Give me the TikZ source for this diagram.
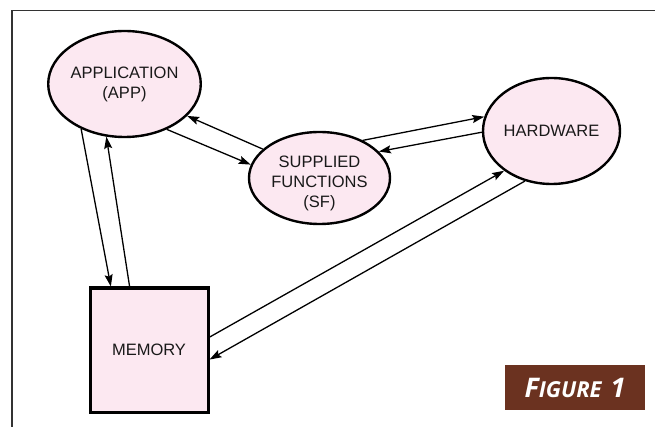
\documentclass[tikz,border=0pt]{standalone}
\usepackage{fontspec}
\setmainfont{Liberation Sans}
\newfontfamily\figfont{Open Sans}
\usetikzlibrary{shapes.geometric,arrows.meta}
\definecolor{pinkfill}{RGB}{252,232,241}
\definecolor{figbrown}{RGB}{107,50,32}
\begin{document}
\begin{tikzpicture}[x=1pt,y=-1pt,
  lbl/.style={font=\fontsize{16.5}{20}\selectfont, align=center, text=black!90},
  bubble/.style={ellipse, draw=black, line width=2.4pt, fill=pinkfill, inner sep=0pt, lbl},
  membox/.style={rectangle, draw=black, line width=3pt, fill=pinkfill, inner sep=0pt, lbl},
  conn/.style={-{Stealth[length=12pt,width=8pt,inset=2pt]}, line width=1.3pt},
  figlabel/.style={fill=figbrown, text=white, inner sep=0pt, minimum width=140pt, minimum height=45pt}
]
\useasboundingbox (0,0) rectangle (655,427);
\draw[line width=1.2pt, black!80] (655,10.5) -- (12,10.5) -- (12,427);
\node[bubble, minimum width=141pt, minimum height=106pt] (app) at (124.5,84) {APPLICATION\\(APP)};
\node[bubble, minimum width=141pt, minimum height=92pt] (sf) at (319.5,178) {};
\node[lbl] (sftext) at (319.5,183) {SUPPLIED\\FUNCTIONS\\(SF)};
\node[bubble, minimum width=137pt, minimum height=106pt] (hw) at (551.5,131) {HARDWARE};
\node[membox, minimum width=118pt, minimum height=124pt] (mem) at (149,350) {MEMORY};
\draw[conn] (app.226.7) -- (mem.121);
\draw[conn] (mem.107) -- (app.251.8);
\draw[conn] (app.313.6) -- (sf.169);
\draw[conn] (sf.153) -- (app.333.5);
\draw[conn] (sf.41.5) -- (hw.168.4);
\draw[conn] (hw.181) -- (sf.24.5);
\draw[conn] (mem.12.4) -- (hw.220.3);
\draw[conn] (hw.242.7) -- (mem.351.6);
\node[figlabel] (fig) at (575,387.5) {\figfont\bfseries\itshape{\fontsize{27}{27}\selectfont F}{\fontsize{22}{27}\selectfont IGURE}\hspace{9pt}{\fontsize{27}{27}\selectfont 1}};
\end{tikzpicture}
\end{document}
